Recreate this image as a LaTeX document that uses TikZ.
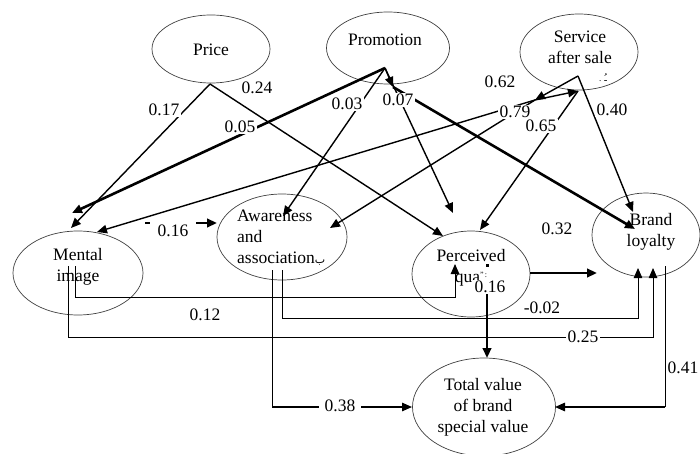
\documentclass[tikz,border=0pt]{standalone}
\usepackage{fontspec}
\setmainfont{Liberation Serif}
\newfontfamily\arabicfont[Script=Arabic]{DejaVu Sans}
\TeXXeTstate=1
\usetikzlibrary{shapes.geometric,arrows.meta}
\begin{document}
\begin{tikzpicture}[x=1pt,y=-1pt,
  every node/.style={font=\fontsize{17.5}{21}\selectfont},
  oval/.style={draw=black!75, line width=0.7pt, ellipse, inner sep=0pt},
  txt/.style={align=center, inner sep=0pt},
  lbl/.style={fill=white, inner sep=1.5pt},
  tip/.style={-{Triangle[length=10pt,width=8.5pt]}},
  thinln/.style={line width=1.4pt},
  thickln/.style={line width=2.6pt},
  elbow/.style={line width=0.9pt},
]
\useasboundingbox (0,0) rectangle (700,454);

% ellipses
\node[oval, minimum width=118pt, minimum height=68pt] (price) at (211,49) {};
\node[oval, minimum width=123pt, minimum height=72pt] (promo) at (388,48) {};
\node[oval, minimum width=118pt, minimum height=76pt] (serv) at (579,52) {};
\node[oval, minimum width=130pt, minimum height=84pt] (mental) at (78,273) {};
\node[oval, minimum width=130pt, minimum height=86pt] (aware) at (282,237) {};
\node[oval, minimum width=118pt, minimum height=86pt] (perc) at (471,274) {};
\node[oval, minimum width=108pt, minimum height=84pt] (brand) at (646,235) {};
\node[oval, minimum width=143pt, minimum height=98pt] (total) at (484,407) {};

% texts
\node[txt] (priceT) at (211,50) {Price};
\node[txt] (promoT) at (385,40) {Promotion};
\node[txt] (servT) at (580,47) {Service\\after sale};
\node[txt] (servM) at (603,78) {\fontsize{9}{9}\selectfont .\,\,{\arabicfont\beginR ـُ\endR}};
\node[txt] (mentalT) at (78,267) {Mental\\image};
\node[txt, align=left, anchor=west] (awareT) at (237,238) {Awareness\\and\\association{\arabicfont\fontsize{11}{11}\selectfont ب}};
\node[txt] (percT) at (471,268) {Perceived\\qua\raisebox{5pt}{\fontsize{8}{8}\selectfont ''\,:}};
\node[txt] (brandT) at (651,232) {Brand\\loyalty};
\node[txt] (totalT) at (483,407) {Total value\\of brand\\special value};
\node[fill, minimum size=3pt, inner sep=0pt] (dot) at (487,265) {};

% points
\coordinate (P0) at (210,84);
\coordinate (A) at (385,68);
\coordinate (A2) at (393,87);
\coordinate (S) at (578,76);
\coordinate (SL) at (535,100);
\coordinate (SR) at (578,91);
\coordinate (mi1) at (71,228);
\coordinate (mi2) at (72,213);
\coordinate (mi3) at (97,232);
\coordinate (aw1) at (283,216);
\coordinate (aw2) at (330,228);
\coordinate (pq1) at (443,236);
\coordinate (pq2) at (453,213);
\coordinate (pq3) at (480,230);
\coordinate (bl1) at (635,229);
\coordinate (bl2) at (633,212);
\coordinate (m16a) at (145,223);
\coordinate (m16b) at (217,223);

% connectors from exogenous constructs
\draw[thinln,tip] (P0) -- (mi1);
\draw[thinln,tip] (P0) -- (pq1);
\draw[thickln,tip] (A) -- (mi2);
\draw[thinln,tip] (A) -- (aw1);
\draw[thinln,tip] (A) -- (pq2);
\draw[thinln,tip] (A) -- (A2);
\draw[thickln,tip] (A2) -- (bl1);
\draw[thinln,tip] (S) -- (SL);
\draw[thinln,tip] (SL) -- (SR);
\draw[thinln,tip] (SL) -- (mi3);
\draw[thinln,tip] (SL) -- (aw2);
\draw[thinln,tip] (SR) -- (pq3);
\draw[thinln,tip] (S) -- (bl2);
\draw[thickln,tip] (m16a) -- (m16b);

% elbow connectors
\coordinate (m1s) at (75,266);
\coordinate (m1e) at (455,264);
\draw[elbow,tip] (m1s) -- (75,297) -- (455,297) -- (m1e);
\coordinate (m2s) at (68,266);
\coordinate (m2e) at (653,268);
\draw[elbow,tip] (m2s) -- (68,337) -- (653,337) -- (m2e);
\coordinate (w1s) at (282,270);
\coordinate (w1e) at (638,268);
\draw[elbow,tip] (w1s) -- (282,318) -- (638,318) -- (w1e);
\coordinate (w2s) at (272,270);
\coordinate (w2c) at (272,407);
\coordinate (w2e) at (412,407);
\draw[elbow] (w2s) -- (w2c);
\draw[thinln,tip] (w2c) -- (w2e);
\coordinate (b1s) at (665,266);
\coordinate (b1c) at (665,407);
\coordinate (b1e) at (555,407);
\draw[elbow] (b1s) -- (b1c);
\draw[thinln,tip] (b1c) -- (b1e);
\coordinate (pqr) at (530,273);
\coordinate (pqre) at (597,273);
\draw[thickln,tip] (pqr) -- (pqre);
\coordinate (pqb) at (487,292);
\coordinate (pqbe) at (487,358);
\draw[thickln,tip] (pqb) -- (pqbe);

% coefficient labels
\node[lbl] (l17) at (164,110) {0.17};
\node[lbl] (l24) at (257,88) {0.24};
\node[lbl] (l05) at (240,127) {0.05};
\node[lbl] (l03) at (347,104) {0.03};
\node[lbl] (l07) at (398,100) {0.07};
\node[lbl] (l62) at (500,82) {0.62};
\node[lbl] (l79) at (515,112) {0.79};
\node[lbl] (l65) at (541,126) {0.65};
\node[lbl] (l40) at (612,110) {0.40};
\node[fill=white, inner xsep=8pt, inner ysep=4pt] (l16a) at (173,231) {0.16};
\node[lbl] (l12) at (205,315) {0.12};
\node[lbl] (l02) at (542,308) {-0.02};
\node[lbl] (l25) at (583,337) {0.25};
\node[lbl] (l32) at (557,229) {0.32};
\node[lbl] (l16b) at (490,287) {0.16};
\node[fill=white, inner xsep=6pt, inner ysep=2pt] (l38) at (340,406) {0.38};
\node[lbl] (l41) at (683,368) {0.41};
\end{tikzpicture}
\end{document}
